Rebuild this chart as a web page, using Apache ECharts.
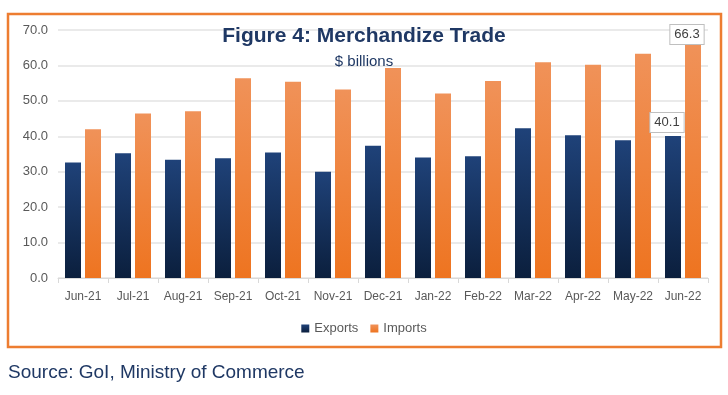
<!DOCTYPE html>
<html><head><meta charset="utf-8">
<script src="https://cdn.jsdelivr.net/npm/echarts@6/dist/echarts.min.js"></script>
<style>html,body{margin:0;padding:0;background:#fff}#c{width:728px;height:395px}</style>
</head><body><div id="c"></div>
<script>
const categories = ["Jun-21","Jul-21","Aug-21","Sep-21","Oct-21","Nov-21","Dec-21","Jan-22","Feb-22","Mar-22","Apr-22","May-22","Jun-22"];
const exportsData = [32.6, 35.2, 33.4, 33.8, 35.4, 30.0, 37.3, 34.0, 34.4, 42.3, 40.3, 38.9, 40.1];
const importsData = [42.0, 46.4, 47.1, 56.4, 55.4, 53.2, 59.3, 52.1, 55.6, 60.9, 60.2, 63.3, 66.3];
const yTicks = [0, 10, 20, 30, 40, 50, 60, 70];

const chart = echarts.init(document.getElementById('c'));
const calloutLabel = (dx, dy) => ({
  show: true, position: 'top', offset: [dx, dy],
  formatter: p => p.value.toFixed(1),
  backgroundColor: '#fff', borderColor: '#bfbfbf', borderWidth: 1,
  padding: [3, 4], color: '#404040', fontFamily: 'Liberation Sans, sans-serif', fontSize: 13
});
const expSeries = exportsData.map((v, i) => i === exportsData.length - 1 ? { value: v, label: calloutLabel(-6, 1) } : v);
const impSeries = importsData.map((v, i) => i === importsData.length - 1 ? { value: v, label: calloutLabel(-6, 6) } : v);

chart.setOption({
  animation: false,
  graphic: [
    { type: 'rect', shape: { x: 8, y: 14, width: 713, height: 333 }, style: { fill: 'none', stroke: '#ed7d31', lineWidth: 2.5 }, z: -1 },
    { type: 'text', left: 8, top: 363, style: { text: 'Source: GoI, Ministry of Commerce', fill: '#1f3864', font: '19px "Liberation Sans", Arial, sans-serif' } }
  ],
  title: {
    text: 'Figure 4: Merchandize Trade', subtext: '$ billions', left: 'center', top: 21, itemGap: 7,
    textStyle: { color: '#1f3864', fontSize: 21, fontWeight: 'bold', fontFamily: 'Liberation Sans, Arial, sans-serif' },
    subtextStyle: { color: '#1f3864', fontSize: 15, fontFamily: 'Liberation Sans, Arial, sans-serif' }
  },
  legend: {
    bottom: 55, left: 'center', itemWidth: 8, itemHeight: 8, itemGap: 12,
    textStyle: { color: '#595959', fontSize: 13, fontFamily: 'Liberation Sans, sans-serif' },
    data: [{ name: 'Exports', icon: 'rect' }, { name: 'Imports', icon: 'rect' }]
  },
  grid: { left: 58, right: 20, top: 30, bottom: 117 },
  xAxis: {
    type: 'category', data: categories,
    axisLine: { lineStyle: { color: '#d9d9d9' } },
    axisTick: { show: true, lineStyle: { color: '#d9d9d9' }, length: 5 },
    axisLabel: { interval: 0, color: '#595959', fontSize: 12, margin: 13, fontFamily: 'Liberation Sans, sans-serif' }
  },
  yAxis: {
    type: 'value', min: yTicks[0], max: yTicks[yTicks.length - 1], interval: 10,
    axisLine: { show: false }, axisTick: { show: false },
    splitLine: { lineStyle: { color: '#e3e3e3', width: 1.5 } },
    axisLabel: { color: '#595959', fontSize: 13, margin: 10, formatter: v => v.toFixed(1), fontFamily: 'Liberation Sans, sans-serif' }
  },
  series: [
    {
      name: 'Exports', type: 'bar', data: expSeries, barWidth: 16, barGap: '25%',
      itemStyle: { color: new echarts.graphic.LinearGradient(0, 0, 0, 1, [{ offset: 0, color: '#1f4279' }, { offset: 1, color: '#0b1f3d' }]) }
    },
    {
      name: 'Imports', type: 'bar', data: impSeries, barWidth: 16,
      itemStyle: { color: new echarts.graphic.LinearGradient(0, 0, 0, 1, [{ offset: 0, color: '#f09259' }, { offset: 1, color: '#ee7420' }]) }
    }
  ],
  color: ['#1a3a6b', '#ed7d31']
});
</script></body></html>
